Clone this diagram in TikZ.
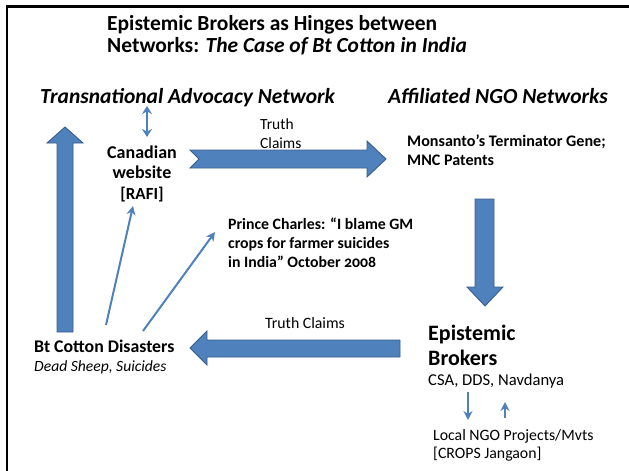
\documentclass[tikz,border=0pt]{standalone}
\usepackage{fontspec}
\setmainfont{Carlito}
\usetikzlibrary{arrows.meta}
\definecolor{blk}{HTML}{4F81BD}
\definecolor{blkline}{HTML}{385D8A}
\tikzset{
  bigarrow/.style={fill=blk, draw=blkline, line width=0.9pt, line join=miter},
  thinarrow/.style={draw=blk, line width=2pt, -{Stealth[length=9pt,width=9pt]}},
  txt/.style={inner sep=0pt, anchor=base west, text=black},
  ttl/.style={txt, font=\fontsize{21.5}{24}\selectfont\bfseries},
  hdr/.style={txt, font=\fontsize{21.5}{24}\selectfont\bfseries\itshape},
  bsm/.style={txt, font=\fontsize{15.8}{19}\selectfont\bfseries},
  rsm/.style={txt, font=\fontsize{15.8}{18}\selectfont},
  cwt/.style={txt, anchor=base, font=\fontsize{18}{20}\selectfont\bfseries},
}
\begin{document}
\begin{tikzpicture}[x=1pt,y=-1pt]
\useasboundingbox (0,0) rectangle (629,471);
% frame
\draw[line width=2.5pt] (7,471) -- (7,6.5) -- (629,6.5);
% title
\node[ttl] (t1) at (107,30) {Epistemic Brokers as Hinges between};
\node[ttl] (t2) at (107,52) {Networks: \textit{The Case of Bt Cotton in India}};
% headers
\node[hdr] (tan) at (40,103) {Transnational Advocacy Network};
\node[hdr] (ngo) at (388,103) {Affiliated NGO Networks};
% Canadian website
\node[cwt] (cw1) at (142,158) {Canadian};
\node[cwt] (cw2) at (142,178) {website};
\node[cwt, font=\fontsize{17}{20}\selectfont\bfseries] (cw3) at (142,199) {[RAFI]};
% truth claims top
\node[rsm, font=\fontsize{15.5}{18}\selectfont] (tc1) at (260,129) {Truth};
\node[rsm, font=\fontsize{15.5}{18}\selectfont] (tc2) at (260,148) {Claims};
% Monsanto
\node[bsm, font=\fontsize{16.1}{19}\selectfont\bfseries] (m1) at (407,146) {Monsanto’s Terminator Gene;};
\node[bsm, font=\fontsize{16.1}{19}\selectfont\bfseries] (m2) at (407,165) {MNC Patents};
% Prince Charles
\node[bsm] (p1) at (228,229) {Prince Charles: “I blame GM};
\node[bsm] (p2) at (228,248) {crops for farmer suicides};
\node[bsm] (p3) at (228,267) {in India” October {\addfontfeatures{Numbers=OldStyle}2008}};
% Bt cotton
\node[txt, font=\fontsize{17.8}{20}\selectfont\bfseries] (bt1) at (34,352) {Bt Cotton Disasters};
\node[txt, font=\fontsize{15.6}{20}\selectfont\itshape] (bt2) at (34,371) {Dead Sheep, Suicides};
% truth claims bottom
\node[rsm] (tc3) at (265,328) {Truth Claims};
% Epistemic brokers
\node[txt, font=\fontsize{22}{26}\selectfont\bfseries] (eb1) at (428,340) {Epistemic};
\node[txt, font=\fontsize{22}{26}\selectfont\bfseries] (eb2) at (428,365) {Brokers};
\node[txt, font=\fontsize{16.6}{20}\selectfont] (eb3) at (428,385) {CSA, DDS, Navdanya};
% local NGO
\node[rsm] (l1) at (433,440) {Local NGO Projects/Mvts};
\node[rsm] (l2) at (433,458) {[CROPS Jangaon]};
% big block arrows
\draw[bigarrow] (57,332) -- (57,143) -- (47,143) -- (65,127) -- (83,143) -- (73,143) -- (73,332) -- cycle;
\draw[bigarrow] (190,150) -- (367,150) -- (367,141) -- (386,159) -- (367,177) -- (367,168) -- (190,168) -- (199,159) -- cycle;
\draw[bigarrow] (475,199) -- (494,199) -- (494,287) -- (503,287) -- (485,306) -- (467,287) -- (475,287) -- cycle;
\draw[bigarrow] (400,340) -- (207,340) -- (207,331) -- (190,348) -- (207,365) -- (207,357) -- (400,357) -- cycle;
% thin arrows
\coordinate (da1) at (147,106);
\coordinate (da2) at (147,137);
\draw[draw=blk, line width=2pt, {Stealth[length=8pt,width=10pt]}-{Stealth[length=8pt,width=10pt]}] (da1) -- (da2);
\coordinate (a1s) at (106,325);
\coordinate (a1e) at (133,206);
\draw[thinarrow] (a1s) -- (a1e);
\coordinate (a2s) at (143,331);
\coordinate (a2e) at (215,232);
\draw[thinarrow] (a2s) -- (a2e);
\coordinate (s1s) at (468,392);
\coordinate (s1e) at (468,420);
\draw[thinarrow] (s1s) -- (s1e);
\coordinate (s2s) at (505,418);
\coordinate (s2e) at (505,402);
\draw[thinarrow] (s2s) -- (s2e);
\end{tikzpicture}
\end{document}
